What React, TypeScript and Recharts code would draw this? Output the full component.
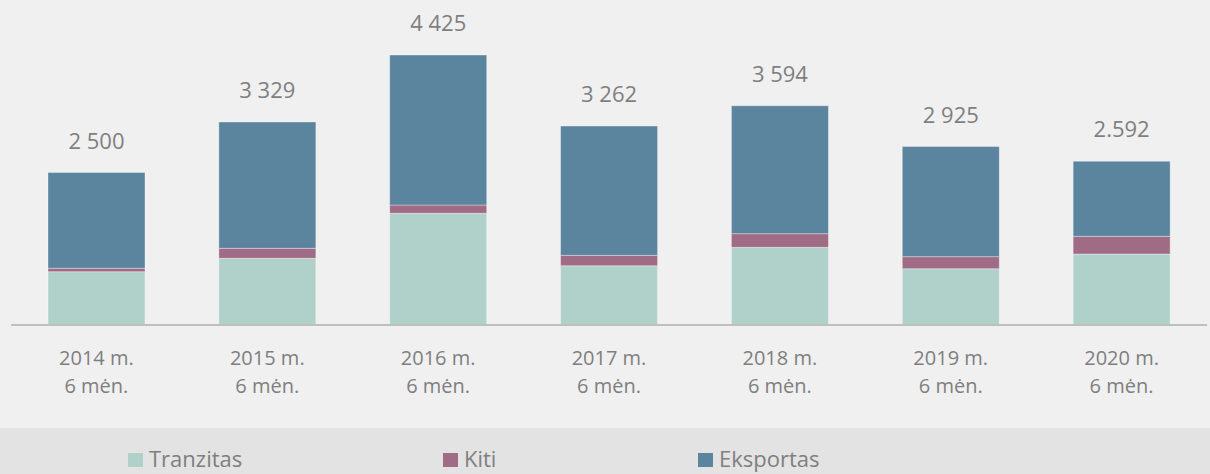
import React from "react";
import { BarChart, Bar, XAxis, YAxis, LabelList } from "recharts";

const years = ["2014 m.", "2015 m.", "2016 m.", "2017 m.", "2018 m.", "2019 m.", "2020 m."];
const periodLabel = "6 mėn.";
const tranzitas = [874, 1093, 1831, 972, 1274, 923, 1164];
const kiti = [56, 164, 136, 170, 223, 197, 290];
const eksportas = [1570, 2071, 2458, 2120, 2097, 1805, 1230];
const totalLabels = ["2 500", "3 329", "4 425", "3 262", "3 594", "2 925", "2.592"];

const seriesNames = ["Tranzitas", "Kiti", "Eksportas"];
const seriesColors = ["#b0d1ca", "#a06b84", "#5b849e"];

const data = years.map((y, i) => ({
  year: y,
  tranzitas: tranzitas[i],
  kiti: kiti[i],
  eksportas: eksportas[i],
  label: totalLabels[i],
}));

const FONT = "'Open Sans', 'Noto Sans', sans-serif";
const TEXT = "#7f7f7f";

const Tick = (props: any) => {
  const { x, y, payload } = props;
  return (
    <text x={x} textAnchor="middle" fill={TEXT} fontFamily={FONT} fontSize={20}>
      <tspan x={x} y={y + 40}>{payload.value}</tspan>
      <tspan x={x} y={y + 68}>{periodLabel}</tspan>
    </text>
  );
};

const TotalLabel = (props: any) => {
  const { x, y, width, index } = props;
  return (
    <text x={x + width / 2} y={y - 24} textAnchor="middle" fill={TEXT} fontFamily={FONT} fontSize={22}>
      {totalLabels[index]}
    </text>
  );
};

const legendPos = [128, 443, 698];

export default function App() {
  return (
    <div style={{ position: "fixed", left: 0, top: 0, width: 1210, height: 474, background: "#f0f0f0", overflow: "hidden" }}>
      <BarChart
        width={1210}
        height={474}
        data={data}
        margin={{ top: 20, right: 3, left: 11, bottom: 89 }}
        barSize={97}
      >
        <XAxis
          dataKey="year"
          height={60}
          axisLine={{ stroke: "#bfbfbf", strokeWidth: 2 }}
          tickLine={false}
          tickSize={0}
          tickMargin={0}
          tick={<Tick />}
          interval={0}
        />
        <YAxis hide domain={[0, 5000]} />
        <Bar dataKey="tranzitas" stackId="a" fill={seriesColors[0]} stroke="#ffffff" strokeOpacity={0.35} strokeWidth={1} isAnimationActive={false} />
        <Bar dataKey="kiti" stackId="a" fill={seriesColors[1]} stroke="#ffffff" strokeOpacity={0.35} strokeWidth={1} isAnimationActive={false} />
        <Bar dataKey="eksportas" stackId="a" fill={seriesColors[2]} stroke="#ffffff" strokeOpacity={0.35} strokeWidth={1} isAnimationActive={false}>
          <LabelList dataKey="label" content={<TotalLabel />} />
        </Bar>
      </BarChart>
      <div style={{ position: "absolute", left: 0, top: 428, width: 1210, height: 46, background: "#e3e3e3" }}>
        {seriesNames.map((n, i) => (
          <div key={n} style={{ position: "absolute", left: legendPos[i], top: 0, height: 46 }}>
            <div style={{ position: "absolute", left: 0, top: 25, width: 15, height: 14, background: seriesColors[i] }} />
            <div style={{ position: "absolute", left: 21, top: 16, fontFamily: FONT, fontSize: 22, color: TEXT, whiteSpace: "nowrap", lineHeight: "28px" }}>{n}</div>
          </div>
        ))}
      </div>
    </div>
  );
}
